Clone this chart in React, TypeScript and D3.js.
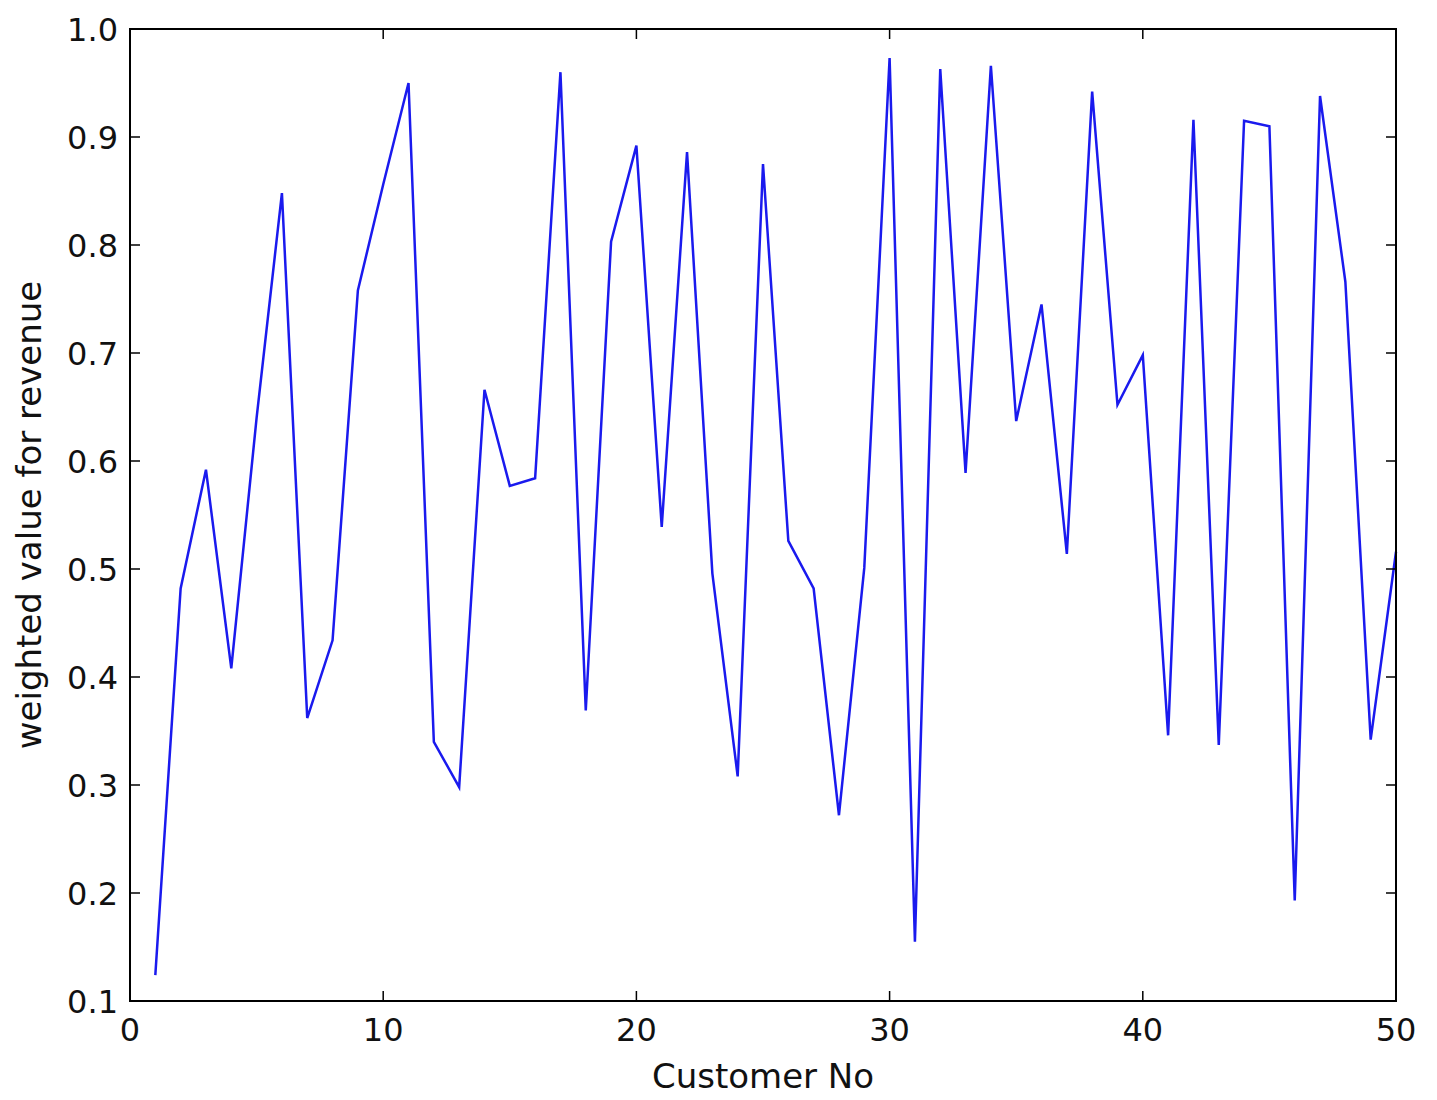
import React from "react";
import * as d3 from "d3";

const customerNo: number[] = Array.from({ length: 50 }, (_, i) => i + 1);
const weightedValue: number[] = [
  0.124, 0.482, 0.592, 0.408, 0.64, 0.848, 0.362, 0.434, 0.758, 0.856,
  0.95, 0.34, 0.298, 0.666, 0.577, 0.584, 0.96, 0.369, 0.803, 0.892,
  0.539, 0.886, 0.496, 0.308, 0.875, 0.526, 0.482, 0.272, 0.501, 0.973,
  0.155, 0.963, 0.589, 0.966, 0.637, 0.745, 0.514, 0.942, 0.652, 0.698,
  0.346, 0.916, 0.337, 0.915, 0.91, 0.193, 0.938, 0.766, 0.342, 0.516,
];
const xTicks: number[] = [0, 10, 20, 30, 40, 50];
const yTicks: number[] = [0.1, 0.2, 0.3, 0.4, 0.5, 0.6, 0.7, 0.8, 0.9, 1.0];
const xLabel = "Customer No";
const yLabel = "weighted value for revenue";

export default function App() {
  const W = 1437, H = 1100;
  const L = 130, R = 1396, T = 29, B = 1001;
  const x = d3.scaleLinear().domain([0, 50]).range([L, R]);
  const y = d3.scaleLinear().domain([0.1, 1.0]).range([B, T]);
  const line = d3
    .line<number>()
    .x((_, i) => x(customerNo[i]))
    .y((d) => y(d));
  const font = "DejaVu Sans, sans-serif";
  const tk = 10;
  return (
    <svg width={W} height={H} style={{ position: "absolute", left: 0, top: 0 }}>
      <rect x={0} y={0} width={W} height={H} fill="#fff" />
      <path d={line(weightedValue) || ""} fill="none" stroke="#1a1aee" strokeWidth={2.5} strokeLinejoin="miter" />
      <rect x={L} y={T} width={R - L} height={B - T} fill="none" stroke="#000" strokeWidth={2} />
      {xTicks.map((t) => (
        <g key={"x" + t}>
          <line x1={x(t)} x2={x(t)} y1={B} y2={B - tk} stroke="#000" strokeWidth={1.5} />
          <line x1={x(t)} x2={x(t)} y1={T} y2={T + tk} stroke="#000" strokeWidth={1.5} />
          <text x={x(t)} y={B + 40} textAnchor="middle" fontFamily={font} fontSize={32} fill="#111">
            {t}
          </text>
        </g>
      ))}
      {yTicks.map((t) => (
        <g key={"y" + t}>
          <line x1={L} x2={L + tk} y1={y(t)} y2={y(t)} stroke="#000" strokeWidth={1.5} />
          <line x1={R} x2={R - tk} y1={y(t)} y2={y(t)} stroke="#000" strokeWidth={1.5} />
          <text x={L - 12} y={y(t)} dy="0.36em" textAnchor="end" fontFamily={font} fontSize={32} fill="#111">
            {t.toFixed(1)}
          </text>
        </g>
      ))}
      <text x={(L + R) / 2} y={1088} textAnchor="middle" fontFamily={font} fontSize={34} fill="#111">
        {xLabel}
      </text>
      <text
        transform={`translate(41, ${(T + B) / 2}) rotate(-90)`}
        textAnchor="middle"
        fontFamily={font}
        fontSize={34}
        fill="#111"
      >
        {yLabel}
      </text>
    </svg>
  );
}
